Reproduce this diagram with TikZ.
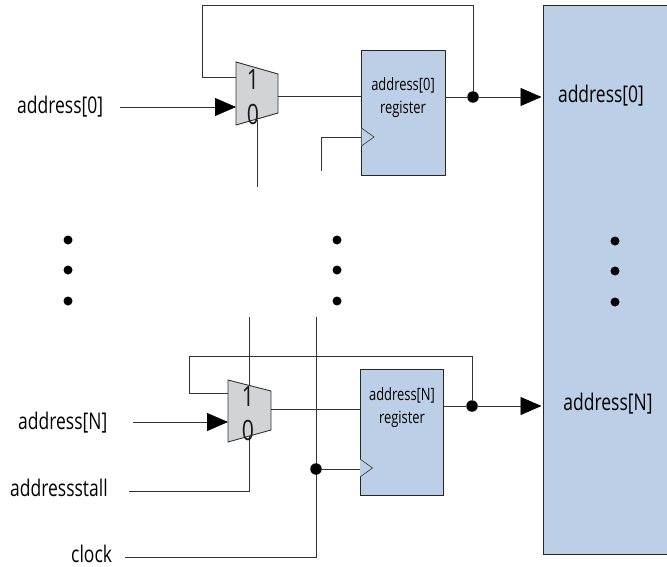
\documentclass[tikz,border=0pt]{standalone}
\usepackage{fontspec}
\setmainfont[FakeStretch=0.76]{Open Sans}
\usetikzlibrary{arrows.meta}
\definecolor{regblue}{HTML}{BDCFE6}
\definecolor{muxgray}{HTML}{D2D3D5}
\tikzset{
  wire/.style={draw=black!80,line width=0.9pt},
  arrowwire/.style={wire,-{Triangle[length=21pt,width=18pt,color=black]}},
  regbox/.style={draw=black!85,fill=regblue,line width=0.9pt},
  muxbox/.style={draw=black!80,fill=muxgray,line width=0.9pt},
  clk/.style={draw=black!80,fill=regblue,line width=0.6pt},
  lbl/.style={font=\fontsize{23}{23}\selectfont,inner sep=0pt,text=black},
  small/.style={font=\fontsize{17}{23}\selectfont,inner sep=0pt,align=center,text=black},
  muxnum/.style={font=\fontsize{28}{28}\selectfont,inner sep=0pt,text=black!90},
  dotn/.style={circle,fill=black,inner sep=0pt,minimum size=11.5pt},
  vdot/.style={circle,fill=black,inner sep=0pt,minimum size=9pt}
}
\begin{document}
\begin{tikzpicture}[x=1pt,y=-1pt]
\useasboundingbox (0,0) rectangle (667,567);
% bus
\node[regbox,minimum width=126pt,minimum height=549pt,anchor=north west,inner sep=0pt,outer sep=0pt] (bus) at (543,5) {};
% top row
\draw[muxbox] (236,62) -- (278,74) -- (278,113) -- (236,125) -- cycle;
\coordinate (mux0out) at (278,96);
\coordinate (mux0fb) at (236,77);
\coordinate (mux0in) at (236,107);
\node[regbox,minimum width=83.5pt,minimum height=125.5pt,anchor=north west,inner sep=0pt,outer sep=0pt] (reg0) at (361.5,50) {};
\node[small] (reg0t) at (403,98) {address[0]\\register};
\draw[clk] (361.5,128) -- (374,137) -- (361.5,146);
\node[dotn] (d0) at (473,97) {};
\coordinate (fb0a) at (473,5);
\coordinate (fb0b) at (202,5);
\coordinate (fb0c) at (202,77);
\coordinate (in0s) at (120,107);
\coordinate (arr0) at (541.5,97);
\coordinate (st0a) at (257,120);
\coordinate (st0b) at (257,187);
\coordinate (ck0a) at (321,171);
\coordinate (ck0b) at (321,137);
\coordinate (ck0c) at (361,137);
\draw[wire] (mux0out) -- (mux0out -| reg0.west);
\draw[wire] (445,97) -- (d0);
\draw[wire] (d0) -- (fb0a) -- (fb0b) -- (fb0c) -- (mux0fb);
\draw[arrowwire] (d0) -- (arr0);
\draw[arrowwire] (in0s) -- (mux0in);
\node[muxnum] (m01) at (253,80) {1};
\node[muxnum] (m00) at (253,114) {0};
\draw[wire] (st0a) -- (st0b);
\draw[wire] (ck0a) -- (ck0b) -- (ck0c);
% bottom row wires behind
\coordinate (stTop) at (249,317);
\coordinate (stBot) at (249,491);
\coordinate (stL) at (129,491);
\coordinate (ckTop) at (316,317);
\coordinate (ckBot) at (316,557);
\coordinate (ckL) at (125,557);
\draw[wire] (stTop) -- (stBot) -- (stL);
\draw[wire] (ckTop) -- (ckBot) -- (ckL);
\draw[muxbox] (228,380) -- (271,391) -- (271,430) -- (228,442) -- cycle;
\coordinate (muxNout) at (271,409);
\coordinate (muxNfb) at (228,393);
\coordinate (muxNin) at (228,422);
\node[regbox,minimum width=83.5pt,minimum height=126pt,anchor=north west,inner sep=0pt,outer sep=0pt] (regN) at (360,369) {};
\node[small] (regNt) at (402,408) {address[N]\\register};
\draw[clk] (360,459) -- (372.5,468) -- (360,477);
\node[dotn] (dN) at (472,406) {};
\node[dotn] (dC) at (316,469) {};
\coordinate (fbNa) at (472,356);
\coordinate (fbNb) at (189,356);
\coordinate (fbNc) at (189,393);
\coordinate (inNs) at (133,422);
\coordinate (arrN) at (541.5,406);
\draw[wire] (muxNout) -- (muxNout -| regN.west);
\draw[wire] (444,406) -- (dN);
\draw[wire] (dN) -- (fbNa) -- (fbNb) -- (fbNc) -- (muxNfb);
\draw[arrowwire] (dN) -- (arrN);
\draw[arrowwire] (inNs) -- (muxNin);
\draw[wire] (dC) -- (360,469);
\node[muxnum] (mN1) at (248,397) {1};
\node[muxnum] (mN0) at (248,430) {0};
% labels
\node[lbl,anchor=west] (l0) at (17,107) {address[0]};
\node[lbl,anchor=west] (lN) at (18,423) {address[N]};
\node[lbl,anchor=west] (ls) at (10,488) {addressstall};
\node[lbl,anchor=west] (lc) at (71,554) {clock};
\node[lbl] (r0) at (601,96) {address[0]};
\node[lbl] (rN) at (608,404) {address[N]};
% dots
\foreach \n/\x/\y in {a/68/240,b/68/270,c/68/301,d/337/240,e/337/270,f/337/301,g/615/241,h/615/271,i/615/302}
  \node[vdot] (v\n) at (\x,\y) {};
\end{tikzpicture}
\end{document}
